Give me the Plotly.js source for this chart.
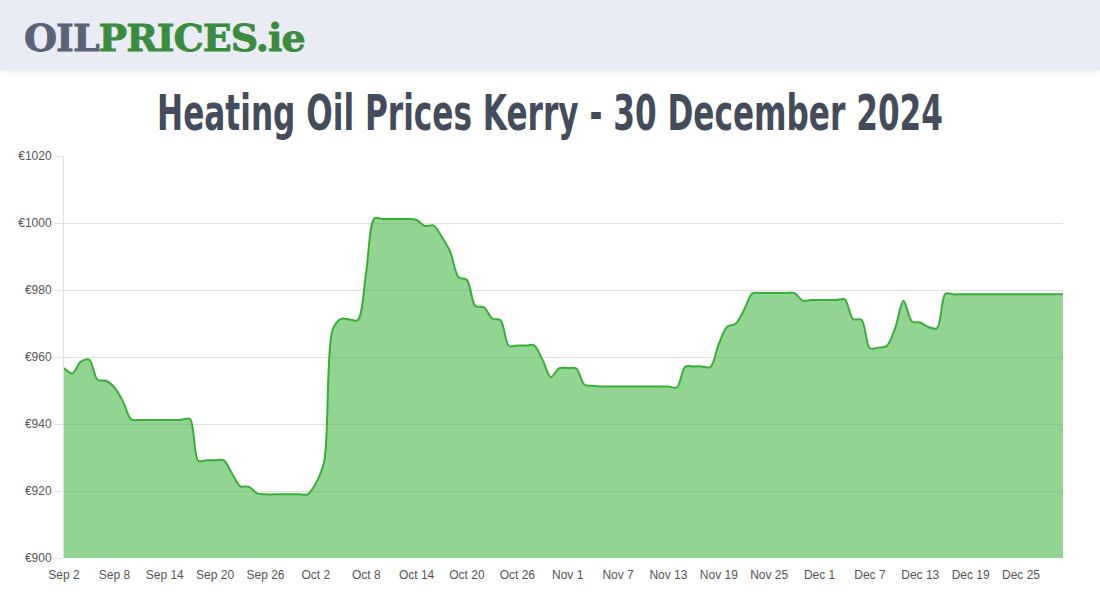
<!DOCTYPE html>
<html>
<head>
<meta charset="utf-8">
<script src="https://cdn.plot.ly/plotly-3.0.1.min.js"></script>
<style>
  html, body { margin: 0; padding: 0; background: #fff; }
  #wrap { position: relative; width: 1100px; height: 600px; overflow: hidden; }
  #chart { position: absolute; left: 0; top: 0; width: 1100px; height: 600px; }
  #header { position: absolute; left: 0; top: 0; width: 1100px; height: 70px; background: #e9ecf4;
            box-shadow: 0 2px 6px rgba(0,0,0,0.08); z-index: 2; }
  #logo { position: absolute; left: 24px; top: 16px; font-family: "DejaVu Serif", serif; font-weight: bold;
          font-size: 38px; letter-spacing: -1px; line-height: 44px; white-space: nowrap; }
  #logo .oil { color: #5a6277; -webkit-text-stroke: 0.8px #5a6277; }
  #logo .rest { color: #3a8b3d; -webkit-text-stroke: 0.8px #3a8b3d; }
</style>
</head>
<body>
<div id="wrap">
  <div id="chart"></div>
  <div id="header"><div id="logo"><span class="oil">OIL</span><span class="rest">PRICES.ie</span></div></div>
</div>
<script>
// ---- data ----
var startDate = '2024-09-02';
var prices = [
  956.7, 955.1, 958.6, 959.2, 953.2, 952.9, 950.9, 946.9, 941.4, 941.2,
  941.2, 941.2, 941.2, 941.2, 941.3, 941.5, 929.0, 929.2, 929.2, 929.2,
  925.3, 921.4, 921.3, 919.3, 919.0, 919.0, 919.0, 919.0, 919.0, 919.0,
  922.3, 929.0, 968.2, 971.4, 971.2, 971.0, 985.5, 1001.4, 1001.2, 1001.2,
  1001.2, 1001.2, 1000.9, 999.1, 999.3, 995.9, 991.4, 983.8, 983.0, 975.2,
  974.9, 971.5, 971.0, 963.3, 963.4, 963.4, 963.5, 959.2, 954.0, 956.7,
  956.7, 956.6, 951.7, 951.4, 951.2, 951.2, 951.2, 951.2, 951.2, 951.2,
  951.2, 951.2, 951.2, 950.9, 957.1, 957.2, 957.2, 957.0, 963.9, 969.0,
  969.9, 974.0, 979.0, 979.1, 979.1, 979.1, 979.1, 979.1, 976.8, 977.0,
  977.0, 977.0, 977.0, 977.2, 971.3, 971.1, 962.6, 962.8, 963.3, 968.6,
  976.8, 970.6, 970.3, 968.9, 968.6, 978.9, 978.7, 978.7, 978.7, 978.7,
  978.7, 978.7, 978.7, 978.7, 978.7, 978.7, 978.7, 978.7, 978.7, 978.7
];
var yTicks = [900, 920, 940, 960, 980, 1000, 1020];
var yTickLabels = ['€900', '€920', '€940', '€960', '€980', '€1000', '€1020'];
var titleText = 'Heating Oil Prices Kerry - 30 December 2024';

// consecutive daily dates for each price
var dates = [];
(function () {
  var d0 = new Date(startDate + 'T00:00:00Z');
  for (var i = 0; i < prices.length; i++) {
    var d = new Date(d0.getTime() + i * 86400000);
    dates.push(d.toISOString().slice(0, 10));
  }
})();

var trace = {
  x: dates,
  y: prices,
  type: 'scatter',
  mode: 'lines',
  line: { color: '#38ae38', width: 2, shape: 'spline', smoothing: 0.9 },
  fill: 'tozeroy',
  fillcolor: 'rgba(60,180,60,0.56)',
  hoverinfo: 'x+y'
};

var layout = {
  width: 1100,
  height: 600,
  margin: { l: 64, r: 37, t: 156, b: 42 },
  paper_bgcolor: '#ffffff',
  plot_bgcolor: '#ffffff',
  showlegend: false,
  title: {
    text: titleText,
    font: { family: '"DejaVu Sans", sans-serif', size: 50, color: '#444b5b', weight: 'bold' },
    xref: 'container', x: 0.5, xanchor: 'center',
    yref: 'container', y: 1 - 113 / 600, yanchor: 'middle'
  },
  xaxis: {
    type: 'date',
    range: [dates[0], dates[dates.length - 1]],
    tick0: startDate,
    dtick: 6 * 86400000,
    tickformat: '%b %-d',
    showgrid: false,
    zeroline: false,
    showline: false,
    ticks: '',
    ticklabelstandoff: 8,
    tickfont: { family: '"Liberation Sans", Arial, sans-serif', size: 12, color: '#555' },
    fixedrange: true
  },
  yaxis: {
    range: [900, 1020],
    tickmode: 'array',
    tickvals: yTicks,
    ticktext: yTickLabels,
    showgrid: true,
    gridcolor: '#e2e2e2',
    gridwidth: 1,
    zeroline: false,
    showline: true,
    linecolor: '#e2e2e2',
    linewidth: 1,
    ticks: 'outside',
    ticklen: 9,
    tickcolor: '#e2e2e2',
    tickfont: { family: '"Liberation Sans", Arial, sans-serif', size: 12, color: '#555' },
    fixedrange: true
  }
};

function condenseTitle() {
  var t = document.querySelector('#chart .gtitle');
  if (!t) return;
  var bb = t.getBBox();
  var cx = bb.x + bb.width / 2;
  var target = 786;
  var s = target / bb.width;
  t.setAttribute('transform', 'translate(' + cx + ',0) scale(' + s + ',1) translate(' + (-cx) + ',0)');
}

Plotly.newPlot('chart', [trace], layout, { displayModeBar: false, staticPlot: true }).then(condenseTitle);
</script>
</body>
</html>
